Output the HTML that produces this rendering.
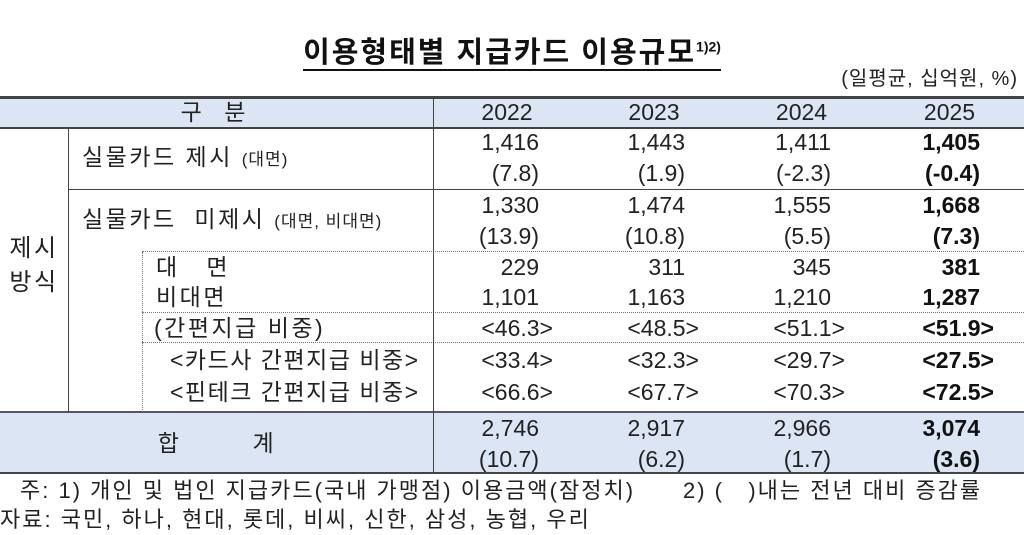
<!DOCTYPE html>
<html><head><meta charset="utf-8"><style>
*{margin:0;padding:0;box-sizing:border-box}
body{width:1024px;height:535px;background:#fff;position:relative;overflow:hidden;font-family:"Liberation Sans","Noto Sans CJK KR",sans-serif;color:#222}
.a{position:absolute;white-space:nowrap;line-height:30px;height:30px;font-size:22px}
.k{font-size:23px;letter-spacing:2.5px}
.r{text-align:right}
.b{font-weight:bold;color:#111}
.h{position:absolute;left:0;width:1024px}
.v{position:absolute}
</style></head><body>
<div class="a" style="left:0;width:1024px;top:26px;height:40px;line-height:40px;text-align:center;font-size:29px;letter-spacing:2px;font-weight:bold;color:#111"><span style="border-bottom:2px solid #111;padding-bottom:0px">이용형태별 지급카드 이용규모<sup style="font-size:14px;letter-spacing:0">1)2)</sup></span></div>
<div class="a" style="right:6px;top:64px;font-size:20px;letter-spacing:1px">(일평균, 십억원, %)</div>
<div class="h" style="top:97px;height:31px;background:#dce5f4"></div>
<div class="h" style="top:412px;height:61px;background:#dce5f4"></div>
<div class="h" style="top:96px;border-top:3px solid #444"></div>
<div class="h" style="top:127px;border-top:2px solid #444"></div>
<div class="h" style="top:189px;left:68px;width:956px;border-top:1.5px solid #444"></div>
<div class="h" style="top:251px;left:142px;width:882px;border-top:1.5px dotted #777"></div>
<div class="h" style="top:312px;left:142px;width:882px;border-top:1.5px dotted #777"></div>
<div class="h" style="top:342px;left:142px;width:882px;border-top:1.5px dotted #777"></div>
<div class="h" style="top:411px;border-top:2px solid #556"></div>
<div class="h" style="top:472px;border-top:2px solid #444"></div>
<div class="v" style="left:68px;top:128px;height:284px;border-left:1.5px solid #444"></div>
<div class="v" style="left:142px;top:252px;height:160px;border-left:1.5px dotted #777"></div>
<div class="v" style="left:433px;top:97px;height:376px;border-left:1.5px solid #444"></div>
<div class="a k" style="left:0;width:434px;top:97px;text-align:center;letter-spacing:8px">구 분</div>
<div class="a k" style="left:0;width:68px;top:234px;text-align:center;font-size:24px">제시</div>
<div class="a k" style="left:0;width:68px;top:268px;text-align:center;font-size:24px">방식</div>
<div class="a k" style="left:82px;top:142px">실물카드 제시 <span style="font-size:17px;letter-spacing:1px">(대면)</span></div>
<div class="a k" style="left:82px;top:204px">실물카드 &nbsp;미제시 <span style="font-size:17px;letter-spacing:1px">(대면, 비대면)</span></div>
<div class="a k" style="left:156px;top:252px">대 &nbsp;&nbsp;면</div>
<div class="a k" style="left:156px;top:282px">비대면</div>
<div class="a k" style="left:154px;top:313px">(간편지급 비중)</div>
<div class="a k" style="left:170px;top:345px;letter-spacing:1.5px">&lt;카드사 간편지급 비중&gt;</div>
<div class="a k" style="left:170px;top:377px;letter-spacing:1.5px">&lt;핀테크 간편지급 비중&gt;</div>
<div class="a k" style="left:0;width:434px;top:428px;text-align:center">합 &nbsp;&nbsp;&nbsp;&nbsp;&nbsp;&nbsp;&nbsp;계</div>
<div id="d"></div>
<div class="a" style="left:20px;top:476px;font-size:22px;letter-spacing:2px">주: 1) 개인 및 법인 지급카드(국내 가맹점) 이용금액(잠정치)</div>
<div class="a" style="left:683px;top:476px;font-size:22px;letter-spacing:2px">2) ( &nbsp;&nbsp;)내는 전년 대비 증감률</div>
<div class="a" style="left:0;top:505px;font-size:22px;letter-spacing:2px">자료: 국민, 하나, 현대, 롯데, 비씨, 신한, 삼성, 농협, 우리</div>
<div class="a" style="left:434px;width:146px;top:97px;text-align:center;font-size:23px">2022</div>
<div class="a" style="left:580px;width:148px;top:97px;text-align:center;font-size:23px">2023</div>
<div class="a" style="left:728px;width:147px;top:97px;text-align:center;font-size:23px">2024</div>
<div class="a" style="left:875px;width:149px;top:97px;text-align:center;font-size:23px">2025</div>
<script>
var rows=[[127,["1,416","1,443","1,411","1,405"]],[158,["(7.8)","(1.9)","(-2.3)","(-0.4)"]],[190,["1,330","1,474","1,555","1,668"]],[221,["(13.9)","(10.8)","(5.5)","(7.3)"]],[252,["229","311","345","381"]],[282,["1,101","1,163","1,210","1,287"]],[313,["&lt;46.3&gt;","&lt;48.5&gt;","&lt;51.1&gt;","&lt;51.9&gt;"]],[345,["&lt;33.4&gt;","&lt;32.3&gt;","&lt;29.7&gt;","&lt;27.5&gt;"]],[377,["&lt;66.6&gt;","&lt;67.7&gt;","&lt;70.3&gt;","&lt;72.5&gt;"]],[413,["2,746","2,917","2,966","3,074"]],[444,["(10.7)","(6.2)","(1.7)","(3.6)"]]];
var rx=[539,685,831,980],h="";
rows.forEach(function(r){r[1].forEach(function(t,i){var ang=t.indexOf("&lt;")==0;var x=rx[i]+(ang?14:0);h+='<div class="a r'+(i==3?' b':'')+'" style="font-size:23px;right:'+(1024-x)+'px;top:'+r[0]+'px">'+t+'</div>';});});
document.getElementById("d").innerHTML=h;
</script>
</body></html>
